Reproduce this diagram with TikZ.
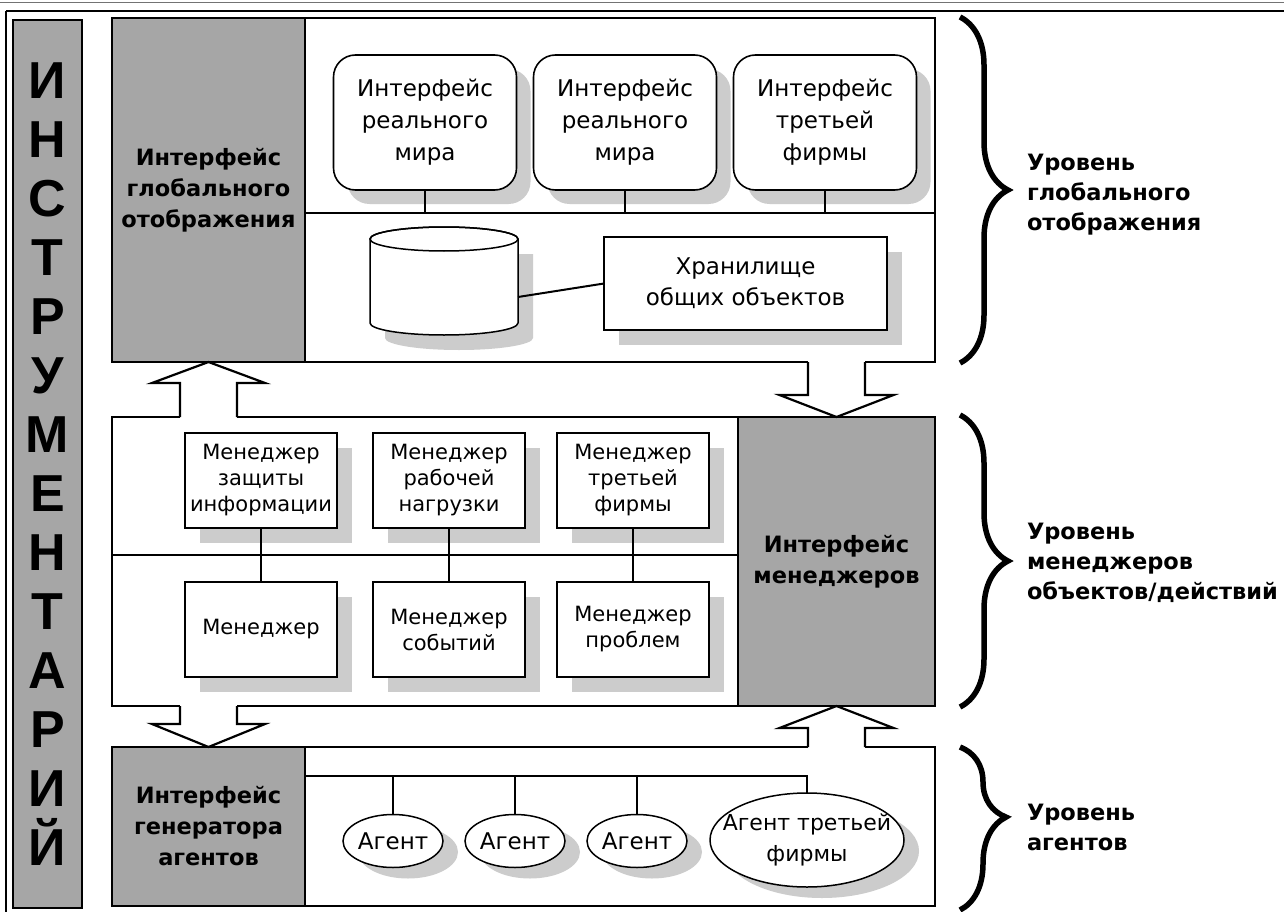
\documentclass[tikz,border=0pt]{standalone}
\usepackage{fontspec}
\setmainfont{DejaVu Sans}
\newfontfamily\stackfont{Liberation Sans}
\usetikzlibrary{shapes.geometric,shadows,decorations.pathreplacing,calc}
\definecolor{panelgray}{HTML}{A6A6A6}
\definecolor{shadowgray}{HTML}{CCCCCC}

\begin{document}
\begin{tikzpicture}[x=1pt,y=-1pt,
  every node/.style={inner sep=0pt, outer sep=0pt},
  levelframe/.style={draw, line width=2.4pt, fill=white, minimum width=823pt},
  panel/.style={draw, line width=1.6pt, fill=panelgray, align=center,
    font=\bfseries\fontsize{22.5}{31}\selectfont},
  boxshadow/.style={drop shadow={shadow xshift=#1, shadow yshift=-#1,
    fill=shadowgray, opacity=1}},
  rbox/.style={draw, line width=1.6pt, fill=white, rounded corners=22pt,
    minimum width=183pt, minimum height=135pt, align=center,
    font=\fontsize{23}{32}\selectfont, boxshadow=14pt},
  mbox/.style={draw, line width=1.5pt, fill=white, minimum width=152pt,
    minimum height=95pt, align=center, font=\fontsize{21}{26}\selectfont,
    boxshadow=15pt},
  agent/.style={ellipse, draw, line width=1.5pt, fill=white,
    minimum width=100pt, minimum height=53pt, font=\fontsize{23}{28}\selectfont,
    drop shadow={shadow xshift=15pt, shadow yshift=-11pt, fill=shadowgray, opacity=1}},
  wire/.style={line width=2pt},
  barrow/.style={draw, line width=2.2pt, line join=miter},
  levelbrace/.style={decorate, decoration={brace, amplitude=48pt}, line width=5.5pt},
  levellabel/.style={anchor=west, align=left, font=\bfseries\fontsize{22.5}{30}\selectfont}
]
\useasboundingbox (0,0) rectangle (1284,912);

% page rules
\draw[line width=1pt, black!55] (0,2.5) -- (1284,2.5);
\draw[line width=2.4pt] (6,11) -- (1284,11);
\draw[line width=2.4pt] (6,11) -- (6,912);

% tools column
\node[draw, line width=1.5pt, fill=panelgray, minimum width=69pt, minimum height=888pt,
  align=center, font=\stackfont\bfseries\fontsize{52}{59}\selectfont]
  (tools) at (47.5,464) {И\\Н\\С\\Т\\Р\\У\\М\\Е\\Н\\Т\\А\\Р\\И\\Й};

% ---------- global mapping level ----------
\node[levelframe, minimum height=344pt] (topframe) at (523.5,190) {};
\node[panel, minimum width=193pt, minimum height=344pt] (gtop) at (208.5,190)
  {Интерфейс\\глобального\\отображения};
\draw[line width=2.4pt] (topframe.north west) rectangle (topframe.south east);
\coordinate (tdivL) at (305,213);
\coordinate (tdivR) at (935,213);
\draw[line width=2.2pt] (tdivL) -- (tdivR);

\node[rbox] (rw1) at (425,122.5) {Интерфейс\\реального\\мира};
\node[rbox] (rw2) at (625,122.5) {Интерфейс\\реального\\мира};
\node[rbox] (rw3) at (825,122.5) {Интерфейс\\третьей\\фирмы};
\foreach \b in {rw1,rw2,rw3}
  \draw[wire] (\b.south) -- (\b.south |- tdivL);

% object store
\fill[shadowgray] (385,254) -- (385,338)
  arc[start angle=180, end angle=0, x radius=74, y radius=12] -- (533,254) -- cycle;
\draw[line width=1.5pt, fill=white] (370,239) -- (370,323)
  arc[start angle=180, end angle=0, x radius=74, y radius=12] -- (518,239)
  arc[start angle=0, end angle=-180, x radius=74, y radius=12] -- cycle;
\draw[line width=1.5pt] (444,239) ellipse[x radius=74, y radius=12];
\node[minimum width=148pt, minimum height=108pt] (db) at (444,281) {};
\coordinate (dbport) at ($(db.east)+(0,16)$);

\node[mbox, minimum width=283pt, minimum height=93pt, font=\fontsize{23}{31}\selectfont]
  (store) at (745.5,283.5) {Хранилище\\общих объектов};
\draw[wire] (dbport) -- (store.west);

% ---------- managers level ----------
\node[levelframe, minimum height=289pt] (midframe) at (523.5,561.5) {};
\node[panel, minimum width=197pt, minimum height=289pt] (gmid) at (836.5,561.5)
  {Интерфейс\\менеджеров};
\draw[line width=2.4pt] (midframe.north west) rectangle (midframe.south east);
\coordinate (mdivL) at (112,555);
\draw[line width=2.2pt] (mdivL) -- (gmid.west |- mdivL);

\node[mbox] (m1) at (261,480.5) {Менеджер\\защиты\\информации};
\node[mbox] (m2) at (449,480.5) {Менеджер\\рабочей\\нагрузки};
\node[mbox] (m3) at (633,480.5) {Менеджер\\третьей\\фирмы};
\node[mbox] (m4) at (261,629.5) {Менеджер};
\node[mbox] (m5) at (449,629.5) {Менеджер\\событий};
\node[mbox] (m6) at (633,629.5) {Менеджер\\проблем};
\draw[wire] (m1.south) -- (m4.north);
\draw[wire] (m2.south) -- (m5.north);
\draw[wire] (m3.south) -- (m6.north);

% ---------- agents level ----------
\node[levelframe, minimum height=159pt] (botframe) at (523.5,826.5) {};
\node[panel, minimum width=193pt, minimum height=159pt]
  (gbot) at (208.5,826.5) {Интерфейс\\генератора\\агентов};
\draw[line width=2.4pt] (botframe.north west) rectangle (botframe.south east);

\node[agent] (a1) at (393,841) {Агент};
\node[agent] (a2) at (515,841) {Агент};
\node[agent] (a3) at (637,841) {Агент};
\node[agent, minimum width=194pt, minimum height=94pt,
  label={[align=center, font=\fontsize{22}{31}\selectfont]center:Агент третьей\\фирмы}]
  (a4) at (807,840) {};
\coordinate (busL) at (305,776);
\draw[wire] (busL) -- (a4.north |- busL) -- (a4.north);
\foreach \a in {a1,a2,a3}
  \draw[wire] (\a.north |- busL) -- (\a.north);

% ---------- block arrows between levels ----------
\fill[white] ($(gtop.south)+(-28.5,21)$) rectangle ($(gtop.south)+(28.5,57)$);
\draw[barrow] ($(gtop.south)+(-28.5,55)$) -- ++(0,-34) -- ++(-28,0) -- (gtop.south)
  -- ++(56.5,21) -- ++(-28,0) -- ++(0,34);

\fill[white] ($(gmid.north)+(-28.5,-57)$) rectangle ($(gmid.north)+(28.5,-22)$);
\draw[barrow] ($(gmid.north)+(-28.5,-55)$) -- ++(0,33) -- ++(-28.5,0) -- (gmid.north)
  -- ++(57,-22) -- ++(-28.5,0) -- ++(0,-33);

\fill[white] ($(gbot.north)+(-28.5,-43)$) rectangle ($(gbot.north)+(28.5,-23)$);
\draw[barrow] ($(gbot.north)+(-28.5,-41)$) -- ++(0,18) -- ++(-28,0) -- (gbot.north)
  -- ++(56.5,-23) -- ++(-28,0) -- ++(0,-18);

\fill[white] ($(gmid.south)+(-28.5,22)$) rectangle ($(gmid.south)+(28.5,43)$);
\draw[barrow] ($(gmid.south)+(-28.5,41)$) -- ++(0,-19) -- ++(-28.5,0) -- (gmid.south)
  -- ++(57,22) -- ++(-28.5,0) -- ++(0,19);

% ---------- level braces ----------
\coordinate (b1t) at (960,17);  \coordinate (b1b) at (960,363);
\coordinate (b2t) at (960,415); \coordinate (b2b) at (960,707);
\coordinate (b3t) at (960,747); \coordinate (b3b) at (960,910);
\draw[levelbrace] (b1t) -- (b1b);
\draw[levelbrace] (b2t) -- (b2b);
\draw[levelbrace, decoration={brace, amplitude=46pt, aspect=0.43}] (b3t) -- (b3b);

\node[levellabel] (l1) at (1027,195) {Уровень\\глобального\\отображения};
\node[levellabel] (l2) at (1027,563) {Уровень\\менеджеров\\объектов/действий};
\node[levellabel] (l3) at (1027,827) {Уровень\\агентов};
\end{tikzpicture}
\end{document}
